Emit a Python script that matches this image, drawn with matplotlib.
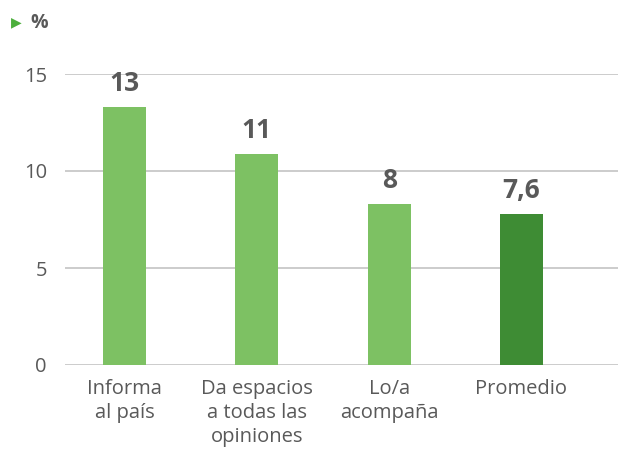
import matplotlib
matplotlib.use("Agg")
import matplotlib.pyplot as plt

categories = ["Informa\nal país", "Da espacios\na todas las\nopiniones", "Lo/a\nacompaña", "Promedio"]
values = [13.3, 10.9, 8.3, 7.8]
value_labels = ["13", "11", "8", "7,6"]
colors = ["#7DC163", "#7DC163", "#7DC163", "#3E8C34"]
yticks = [0, 5, 10, 15]

plt.rcParams['font.family'] = ['Open Sans', 'DejaVu Sans']
text_color = "#595959"

fig = plt.figure(figsize=(6.18, 4.59), dpi=100)
ax = fig.add_axes([65/618, 1-365/459, 1-65/618, (365-74)/459])

x = list(range(len(categories)))
bars = ax.bar(x, values, width=0.326, color=colors, zorder=3)
ax.set_xlim(-0.45, 3.73)
ax.set_ylim(0, 15)
ax.set_yticks(yticks)
ax.yaxis.grid(True, color="#C8C8C8", linewidth=1.3, zorder=0)
ax.set_axisbelow(True)
for s in ax.spines.values():
    s.set_visible(False)
ax.tick_params(axis='both', length=0, colors=text_color, labelsize=14.5)
ax.tick_params(axis='y', pad=13)
ax.tick_params(axis='x', pad=10)
ax.set_xticks(x)
ax.set_xticklabels(categories, linespacing=1.28)
for lab in ax.get_yticklabels():
    lab.set_horizontalalignment('right')

for xi, v, lab in zip(x, values, value_labels):
    ax.annotate(lab, (xi, v), xytext=(0, 7), textcoords='offset points',
                ha='center', va='bottom', fontsize=19, fontweight='bold',
                color=text_color, clip_on=False)

fig.text(11/618, 1-22/459, "▶", color="#4CAF3C", fontsize=10, va='center', ha='left',
         family=['DejaVu Sans'])
fig.text(30/618, 1-23/459, "%", color=text_color, fontsize=14, fontweight='bold',
         va='center', ha='left')

fig.savefig("out.png", dpi=100)
